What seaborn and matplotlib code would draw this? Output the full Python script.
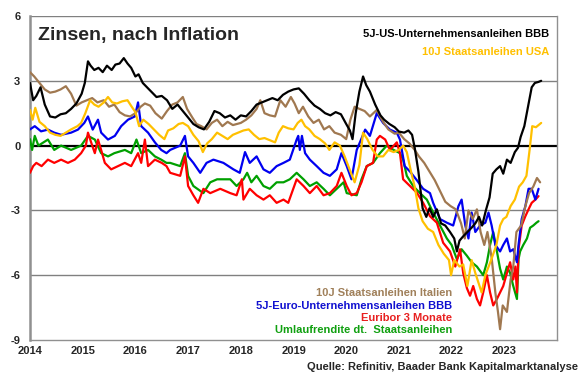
import matplotlib
matplotlib.use("Agg")
import matplotlib.pyplot as plt
import seaborn as sns
import pandas as pd

# ---------------- data (decimal years, real rates in %) ----------------
us_bbb_x = [2014.00, 2014.06, 2014.12, 2014.20, 2014.28, 2014.38, 2014.48, 2014.58, 2014.68, 2014.78,
            2014.88, 2014.98, 2015.04, 2015.10, 2015.15, 2015.22, 2015.30, 2015.38, 2015.46, 2015.55,
            2015.62, 2015.70, 2015.78, 2015.85, 2015.92, 2016.00, 2016.06, 2016.14, 2016.22, 2016.30,
            2016.40, 2016.50, 2016.60, 2016.70, 2016.80, 2016.90, 2017.00, 2017.10, 2017.20, 2017.30,
            2017.40, 2017.50, 2017.60, 2017.70, 2017.80, 2017.90, 2018.00, 2018.10, 2018.20, 2018.30,
            2018.40, 2018.50, 2018.60, 2018.70, 2018.80, 2018.90, 2019.00, 2019.10, 2019.20, 2019.30,
            2019.40, 2019.50, 2019.60, 2019.70, 2019.80, 2019.90, 2020.00, 2020.07, 2020.12, 2020.18,
            2020.25, 2020.32, 2020.38, 2020.45, 2020.55, 2020.65, 2020.72, 2020.82, 2020.92, 2021.00,
            2021.10, 2021.18, 2021.25, 2021.30, 2021.37, 2021.45, 2021.52, 2021.58, 2021.65, 2021.72,
            2021.80, 2021.88, 2021.97, 2022.05, 2022.10, 2022.15, 2022.22, 2022.30, 2022.38, 2022.45,
            2022.52, 2022.58, 2022.65, 2022.72, 2022.78, 2022.85, 2022.92, 2022.98, 2023.05, 2023.12,
            2023.20, 2023.26, 2023.31, 2023.38, 2023.45, 2023.52, 2023.58, 2023.65, 2023.70]
us_bbb_y = [2.9, 2.1, 2.3, 2.7, 1.9, 1.35, 1.3, 1.45, 1.5, 1.7,
            1.95, 2.4, 2.9, 3.9, 3.7, 3.5, 3.6, 3.4, 3.7, 3.5,
            3.75, 3.8, 4.05, 3.8, 3.6, 3.2, 3.3, 2.9, 2.7, 2.5,
            2.25, 2.3, 2.1, 1.7, 1.9, 1.6, 1.3, 1.0, 0.85, 0.75,
            1.1, 1.6, 1.5, 1.3, 1.4, 1.2, 1.4, 1.35, 1.6, 1.9,
            2.0, 2.1, 2.2, 2.1, 2.35, 2.5, 2.6, 2.65, 2.4, 2.1,
            1.85, 1.7, 1.5, 1.4, 1.55, 1.45, 1.0, 0.7, 0.3, 1.5,
            2.5, 3.2, 2.8, 2.5, 1.9, 1.4, 1.2, 1.0, 0.85, 0.65,
            0.6, 0.7, 0.5, -0.1, -1.2, -2.9, -3.3, -2.9, -3.3, -2.95,
            -3.6, -3.7, -4.0, -4.3, -4.9, -4.4, -4.2, -4.0, -3.8, -3.6,
            -3.3, -3.7, -3.0, -2.4, -1.3, -1.1, -0.95, -1.3, -0.65, -0.8,
            -0.3, -0.1, 0.4, 0.9, 1.8, 2.7, 2.9, 2.95, 3.0]

us_gov_x = [2014.00, 2014.05, 2014.10, 2014.18, 2014.28, 2014.38, 2014.48, 2014.58, 2014.68, 2014.78,
            2014.90, 2014.97, 2015.05, 2015.14, 2015.22, 2015.30, 2015.40, 2015.48, 2015.56, 2015.65,
            2015.75, 2015.85, 2015.93, 2016.00, 2016.07, 2016.15, 2016.25, 2016.35, 2016.45, 2016.55,
            2016.62, 2016.72, 2016.82, 2016.90, 2017.00, 2017.10, 2017.20, 2017.28, 2017.36, 2017.45,
            2017.55, 2017.65, 2017.75, 2017.85, 2017.95, 2018.05, 2018.15, 2018.25, 2018.35, 2018.45,
            2018.55, 2018.65, 2018.72, 2018.80, 2018.90, 2019.00, 2019.08, 2019.15, 2019.22, 2019.30,
            2019.40, 2019.50, 2019.60, 2019.68, 2019.78, 2019.88, 2019.97, 2020.08, 2020.16, 2020.25,
            2020.32, 2020.40, 2020.50, 2020.60, 2020.70, 2020.80, 2020.90, 2021.00, 2021.08, 2021.15,
            2021.22, 2021.30, 2021.37, 2021.45, 2021.55, 2021.65, 2021.75, 2021.85, 2021.95, 2021.99,
            2022.05, 2022.15, 2022.22, 2022.30, 2022.38, 2022.45, 2022.57, 2022.64, 2022.75, 2022.85,
            2022.92, 2022.98, 2023.04, 2023.12, 2023.20, 2023.28, 2023.35, 2023.42, 2023.48, 2023.53,
            2023.60, 2023.70]
us_gov_y = [1.65, 1.2, 1.75, 1.1, 0.9, 0.6, 0.5, 0.45, 0.6, 0.75,
            0.9, 1.05, 1.5, 2.1, 1.9, 1.8, 2.0, 2.25, 2.0, 1.95,
            2.05, 2.1, 1.8, 1.55, 0.9, 1.2, 1.0, 0.75, 0.5, 0.3,
            0.7, 0.8, 1.0, 1.05, 0.9, 0.5, 0.2, -0.3, 0.1, 0.3,
            0.6, 0.45, 0.3, 0.5, 0.6, 0.7, 0.75, 0.5, 0.3, 0.35,
            0.25, 0.15, 0.6, 0.9, 0.8, 0.75, 1.05, 1.2, 0.9, 0.75,
            0.45, 0.3, 0.1, -0.2, 0.15, 0.0, -0.5, -1.2, -1.7, -0.9,
            0.6, 0.3, -0.2, -0.5, -0.5, -0.2, -0.3, -0.2, 0.0, -0.3,
            -1.1, -1.9, -2.9, -3.5, -3.85, -4.0, -4.6, -5.0, -5.3, -6.0,
            -5.3, -5.6, -5.5, -6.5, -5.3, -5.9, -6.8, -6.0, -5.3, -4.6,
            -3.7, -3.4, -3.3, -2.8, -2.5, -1.9, -1.7, -1.4, -0.2, 0.9,
            0.85, 1.05]

it_gov_x = [2014.00, 2014.08, 2014.18, 2014.28, 2014.38, 2014.48, 2014.58, 2014.68, 2014.78, 2014.88,
            2014.98, 2015.08, 2015.18, 2015.28, 2015.40, 2015.50, 2015.60, 2015.70, 2015.80, 2015.90,
            2016.00, 2016.10, 2016.18, 2016.28, 2016.38, 2016.50, 2016.60, 2016.70, 2016.80, 2016.90,
            2016.98, 2017.08, 2017.16, 2017.25, 2017.35, 2017.45, 2017.55, 2017.65, 2017.75, 2017.85,
            2018.00, 2018.10, 2018.20, 2018.30, 2018.37, 2018.45, 2018.55, 2018.65, 2018.75, 2018.85,
            2018.95, 2019.02, 2019.10, 2019.18, 2019.28, 2019.38, 2019.48, 2019.58, 2019.68, 2019.78,
            2019.90, 2020.00, 2020.08, 2020.16, 2020.25, 2020.35, 2020.45, 2020.58, 2020.70, 2020.80,
            2020.92, 2021.00, 2021.10, 2021.20, 2021.30, 2021.38, 2021.48, 2021.58, 2021.68, 2021.78,
            2021.88, 2021.98, 2022.08, 2022.18, 2022.25, 2022.32, 2022.40, 2022.48, 2022.55, 2022.62,
            2022.68, 2022.76, 2022.83, 2022.88, 2022.92, 2022.97, 2023.05, 2023.12, 2023.17, 2023.23,
            2023.32, 2023.40, 2023.47, 2023.55, 2023.62, 2023.68]
it_gov_y = [3.4, 3.2, 2.9, 2.6, 2.45, 2.5, 2.6, 2.75, 2.4, 1.85,
            2.0, 2.1, 2.2, 2.0, 2.1, 1.8, 1.9, 1.55, 1.4, 1.35,
            1.5, 1.8, 1.95, 1.85, 1.5, 1.25, 1.6, 1.9, 2.0, 2.25,
            1.7, 1.3, 1.0, 0.9, 0.75, 1.05, 1.2, 0.9, 1.1, 0.95,
            1.05, 1.2, 1.4, 1.7, 2.1, 1.5, 1.4, 1.35, 2.1, 1.8,
            2.25, 1.95, 1.5, 1.8, 1.35, 1.05, 1.2, 0.75, 0.9, 0.6,
            0.5, 0.3, 1.2, 1.8, 1.7, 1.6, 1.35, 1.65, 1.1, 0.75,
            0.55, 0.6, 0.3, 0.1, -0.2, -0.5, -0.8, -1.2, -1.6, -2.1,
            -2.6, -2.8, -2.95, -3.6, -4.3, -3.0, -3.4, -2.95, -4.0, -4.6,
            -4.0, -5.2, -6.8, -7.7, -8.5, -7.4, -7.7, -6.2, -5.6, -4.0,
            -3.7, -2.8, -2.2, -1.9, -1.5, -1.7]

eu_bbb_x = [2014.00, 2014.09, 2014.21, 2014.34, 2014.46, 2014.59, 2014.78, 2014.91, 2015.03, 2015.10,
            2015.19, 2015.29, 2015.35, 2015.48, 2015.61, 2015.73, 2015.86, 2015.99, 2016.05, 2016.11,
            2016.24, 2016.37, 2016.49, 2016.59, 2016.66, 2016.85, 2016.94, 2017.00, 2017.10, 2017.23,
            2017.35, 2017.48, 2017.67, 2017.86, 2017.98, 2018.08, 2018.17, 2018.30, 2018.43, 2018.55,
            2018.68, 2018.81, 2018.93, 2019.06, 2019.09, 2019.12, 2019.16, 2019.22, 2019.31, 2019.44,
            2019.57, 2019.69, 2019.82, 2019.91, 2020.01, 2020.10, 2020.20, 2020.26, 2020.36, 2020.45,
            2020.58, 2020.70, 2020.83, 2020.96, 2021.02, 2021.11, 2021.21, 2021.34, 2021.46, 2021.59,
            2021.65, 2021.78, 2021.91, 2022.03, 2022.13, 2022.19, 2022.26, 2022.32, 2022.38, 2022.45,
            2022.54, 2022.64, 2022.70, 2022.76, 2022.83, 2022.92, 2022.98, 2023.05, 2023.11, 2023.17,
            2023.24, 2023.27, 2023.33, 2023.40, 2023.46, 2023.52, 2023.59, 2023.65]
eu_bbb_y = [0.75, 0.9, 0.66, 0.74, 0.6, 0.5, 0.6, 0.74, 1.05, 1.35,
            0.74, 1.2, 0.6, 0.28, 0.45, 0.9, 1.2, 1.35, 2.0, 0.9,
            0.6, 0.15, -0.2, -0.35, -0.2, 0.0, 0.45, -0.5, -0.8, -1.26,
            -0.8, -0.65, -0.8, -1.1, -1.26, -0.3, -0.8, -0.5, -1.1, -1.26,
            -0.95, -0.8, -0.65, 0.28, 0.45, -0.2, 0.45, -0.35, -0.65, -0.95,
            -1.26, -1.4, -1.1, -0.35, -0.95, -1.56, -0.2, 0.15, 0.74, 0.45,
            1.5, 1.05, 0.74, 0.6, 0.28, -0.95, -1.2, -1.6, -2.0, -2.2,
            -2.65, -3.4, -3.57, -3.7, -2.8, -2.5, -3.7, -4.3, -3.1, -4.0,
            -3.7, -3.57, -3.1, -3.7, -4.6, -4.9, -4.6, -4.3, -4.9, -4.8,
            -5.4, -4.6, -3.4, -2.8, -2.0, -2.0, -2.5, -2.0]

euribor_x = [2014.00, 2014.06, 2014.12, 2014.22, 2014.34, 2014.46, 2014.59, 2014.72, 2014.85, 2014.97,
             2015.06, 2015.10, 2015.16, 2015.23, 2015.29, 2015.35, 2015.42, 2015.54, 2015.67, 2015.80,
             2015.92, 2016.05, 2016.11, 2016.18, 2016.24, 2016.37, 2016.50, 2016.59, 2016.66, 2016.85,
             2016.94, 2017.00, 2017.10, 2017.19, 2017.29, 2017.42, 2017.61, 2017.80, 2017.92, 2018.02,
             2018.05, 2018.17, 2018.30, 2018.43, 2018.55, 2018.68, 2018.81, 2018.90, 2019.06, 2019.19,
             2019.31, 2019.44, 2019.57, 2019.69, 2019.82, 2019.91, 2020.01, 2020.10, 2020.20, 2020.29,
             2020.39, 2020.51, 2020.58, 2020.64, 2020.74, 2020.83, 2020.96, 2021.02, 2021.08, 2021.21,
             2021.34, 2021.46, 2021.59, 2021.72, 2021.84, 2021.97, 2022.07, 2022.16, 2022.22, 2022.29,
             2022.35, 2022.41, 2022.48, 2022.54, 2022.60, 2022.67, 2022.73, 2022.79, 2022.86, 2022.92,
             2022.98, 2023.05, 2023.11, 2023.17, 2023.21, 2023.24, 2023.27, 2023.33, 2023.40, 2023.46,
             2023.52, 2023.59, 2023.65]
euribor_y = [-1.26, -0.95, -0.8, -0.95, -0.65, -0.8, -0.65, -0.8, -0.65, -0.35,
             0.0, 0.6, 0.15, -0.35, 0.28, -0.2, -0.8, -1.1, -0.95, -0.8,
             -0.95, -0.35, -0.8, 0.28, -0.95, -0.65, -0.8, -0.95, -1.26, -1.4,
             -0.5, -1.87, -2.3, -2.65, -2.0, -2.2, -2.0, -2.2, -2.3, -1.56,
             -2.5, -2.0, -2.3, -2.5, -2.3, -2.65, -2.5, -2.65, -1.56, -1.87,
             -2.2, -1.87, -2.3, -2.2, -1.87, -1.26, -1.87, -2.3, -2.2, -1.7,
             -0.95, -0.8, 0.28, 0.45, 0.28, -0.2, 0.15, -0.35, -1.56, -1.87,
             -2.18, -2.65, -3.27, -3.57, -4.5, -4.9, -5.6, -4.8, -5.9, -6.6,
             -6.95, -6.5, -7.1, -7.4, -6.8, -6.0, -6.8, -7.4, -7.1, -6.8,
             -6.5, -5.9, -5.4, -6.2, -5.6, -6.8, -4.8, -3.7, -3.27, -2.95,
             -2.65, -2.5, -2.34]

bund_x = [2014.00, 2014.04, 2014.09, 2014.16, 2014.34, 2014.46, 2014.59, 2014.78, 2014.97, 2015.10,
          2015.23, 2015.35, 2015.48, 2015.60, 2015.80, 2015.92, 2016.02, 2016.11, 2016.24, 2016.37,
          2016.49, 2016.59, 2016.66, 2016.85, 2016.94, 2017.00, 2017.10, 2017.29, 2017.42, 2017.55,
          2017.80, 2017.92, 2018.05, 2018.12, 2018.20, 2018.30, 2018.43, 2018.55, 2018.68, 2018.81,
          2018.93, 2019.06, 2019.12, 2019.19, 2019.31, 2019.44, 2019.57, 2019.69, 2019.82, 2019.95,
          2020.01, 2020.20, 2020.29, 2020.39, 2020.51, 2020.64, 2020.77, 2020.90, 2021.02, 2021.08,
          2021.15, 2021.27, 2021.40, 2021.53, 2021.65, 2021.78, 2021.91, 2022.00, 2022.10, 2022.19,
          2022.29, 2022.38, 2022.48, 2022.60, 2022.67, 2022.73, 2022.79, 2022.86, 2022.92, 2022.98,
          2023.05, 2023.11, 2023.17, 2023.24, 2023.27, 2023.30, 2023.36, 2023.43, 2023.49, 2023.55,
          2023.61, 2023.65]
bund_y = [0.3, -0.2, 0.45, 0.0, 0.28, -0.2, 0.0, -0.2, 0.0, 0.45,
          0.28, -0.35, -0.5, -0.35, -0.2, -0.35, 0.28, -0.35, -0.2, -0.5,
          -0.65, -0.8, -0.8, -0.95, -0.35, -1.4, -1.87, -2.2, -1.7, -1.56,
          -1.56, -1.87, -1.56, -1.26, -1.7, -1.4, -1.87, -2.0, -1.7, -1.7,
          -1.56, -1.26, -1.4, -1.56, -1.87, -1.7, -2.0, -2.3, -2.0, -1.7,
          -2.2, -2.3, -1.56, -0.95, -0.8, -0.35, 0.0, -0.2, -0.35, -0.65,
          -1.4, -1.87, -2.2, -2.5, -3.1, -3.7, -4.3, -4.6, -5.26, -4.8,
          -5.1, -5.4, -5.6, -6.0, -5.4, -4.6, -4.0, -4.9, -5.7, -6.2,
          -5.6, -5.9, -6.5, -7.1, -5.26, -4.9, -4.6, -4.3, -3.8, -3.7,
          -3.57, -3.5]

title = "Zinsen, nach Inflation"
labels = ["5J-US-Unternehmensanleihen BBB", "10J Staatsanleihen USA",
          "10J Staatsanleihen Italien", "5J-Euro-Unternehmensanleihen BBB",
          "Euribor 3 Monate", "Umlaufrendite dt.  Staatsanleihen"]
source = "Quelle: Refinitiv, Baader Bank Kapitalmarktanalyse"
year_ticks = [2014, 2015, 2016, 2017, 2018, 2019, 2020, 2021, 2022, 2023]
y_ticks = [-9, -6, -3, 0, 3, 6]

# ---------------- styling ----------------
sns.set_style("white")
plt.rcParams['font.family'] = ['Liberation Sans', 'DejaVu Sans']

c_black = "#000000"
c_gold = "#FFC000"
c_brown = "#A07850"
c_blue = "#0000F0"
c_red = "#FF0000"
c_green = "#00A000"

fig = plt.figure(figsize=(5.8, 3.75), dpi=100)
ax = fig.add_axes([30 / 580, 1 - 340 / 375, 527 / 580, 324 / 375])

# grid lines
for yv in [6, 3, -3, -6]:
    ax.axhline(yv, color="#808080", lw=1.0, zorder=1)
ax.axhline(0, color="black", lw=1.6, zorder=1)

series = [
    (bund_x, bund_y, c_green),
    (euribor_x, euribor_y, c_red),
    (eu_bbb_x, eu_bbb_y, c_blue),
    (it_gov_x, it_gov_y, c_brown),
    (us_gov_x, us_gov_y, c_gold),
    (us_bbb_x, us_bbb_y, c_black),
]
for i, (xs, ys, col) in enumerate(series):
    df = pd.DataFrame({"Jahr": xs, "Wert": ys})
    sns.lineplot(data=df, x="Jahr", y="Wert", color=col, lw=1.6, ax=ax,
                 estimator=None, sort=False, zorder=3 + i)

ax.set_xlim(2014, 2024)
ax.set_ylim(-9, 6)
ax.set_xticks(year_ticks)
ax.set_xticklabels([str(y) for y in year_ticks], fontsize=8, fontweight="bold")
ax.set_yticks(y_ticks)
ax.set_yticklabels([str(y) for y in y_ticks], fontsize=8, fontweight="bold")
ax.set_xlabel("")
ax.set_ylabel("")
ax.tick_params(axis="x", direction="inout", length=5, color="#808080", pad=2)
ax.tick_params(axis="y", direction="out", length=3, color="#808080", pad=4)

for side in ["left", "bottom", "right"]:
    ax.spines[side].set_color("#909090")
    ax.spines[side].set_linewidth(1.0)
ax.spines["left"].set_linewidth(1.8)
ax.spines["top"].set_visible(False)

# title and legend texts
ax.text(0.016, 0.967, title, transform=ax.transAxes, fontsize=14, fontweight="bold",
        va="top", ha="left", zorder=10)
ax.text(0.985, 0.96, labels[0], transform=ax.transAxes, fontsize=8, fontweight="bold",
        color=c_black, ha="right", va="top", zorder=10)
ax.text(0.985, 0.905, labels[1], transform=ax.transAxes, fontsize=8, fontweight="bold",
        color=c_gold, ha="right", va="top", zorder=10)
leg_cols = ["#A0805A", "#1010D0", "#E82020", "#10A010"]
leg_y = [293, 306, 318, 330]
for txt, col, yy in zip(labels[2:], leg_cols, leg_y):
    fig.text(452 / 580, 1 - yy / 375, txt, fontsize=8, fontweight="bold", color=col,
             ha="right", va="center")

fig.text(578 / 580, 1 - 367 / 375, source, fontsize=8, fontweight="bold",
         ha="right", va="center")

fig.savefig("out.png", dpi=100)
